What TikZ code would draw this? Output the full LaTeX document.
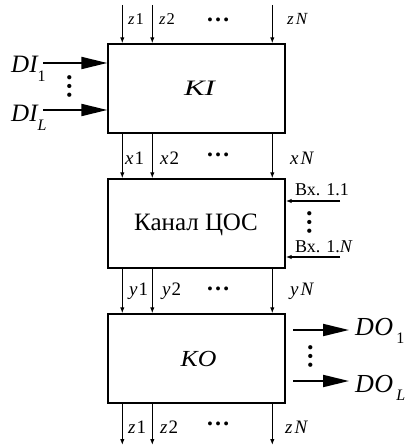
\documentclass[tikz,border=0pt]{standalone}
\usepackage{fontspec}
\setmainfont{Liberation Serif}
\usetikzlibrary{arrows.meta}
\newcommand{\fs}[1]{\fontsize{#1}{#1}\selectfont}
\begin{document}
\begin{tikzpicture}[x=1pt,y=-1pt,
  blk/.style={draw,line width=1.4pt,minimum width=177pt,minimum height=89pt,inner sep=0pt},
  sarr/.style={line width=1.3pt,-{Latex[length=6pt,width=4.5pt]}},
  barr/.style={line width=2pt,-{Triangle[length=26pt,width=12pt]}},
  txt/.style={inner sep=0pt,anchor=base west},
  hdots/.style={font=\fs{24}\bfseries,inner sep=0pt,anchor=base},
  vdots/.style={font=\fs{26}\bfseries,inner sep=0pt,anchor=base,rotate=90}]
\useasboundingbox (0,0) rectangle (409,446);
\node[blk] (ki) at (196.5,88.5) {};
\node[blk] (ch) at (196.5,223.5) {};
\node[blk] (ko) at (196.5,358.5) {};
\node[txt,anchor=base] (kit) at (200,96) {\fs{22}\scalebox{1.4}[1]{\textit{KI}}};
\node[txt,anchor=base] (cht) at (196,230) {\fs{25}Канал ЦОС};
\node[txt,anchor=base] (kot) at (198.5,366) {\fs{23}\scalebox{1.12}[1]{\textit{KO}}};
% vertical connectors
\foreach \dx/\n in {15/a,45/b,165/c}{
  \coordinate (t\n) at ([xshift=\dx pt]ki.north west |- 0,5);
  \draw[sarr] (t\n) -- ([xshift=\dx pt]ki.north west);
  \draw[sarr] ([xshift=\dx pt]ki.south west) -- ([xshift=\dx pt]ch.north west);
  \draw[sarr] ([xshift=\dx pt]ch.south west) -- ([xshift=\dx pt]ko.north west);
  \coordinate (b\n) at ([xshift=\dx pt]ko.south west |- 0,445);
  \draw[sarr] ([xshift=\dx pt]ko.south west) -- (b\n);
}
% labels
\node[txt] (z1t) at (128,25) {\fs{16.5}\textit{z}\kern1pt 1};
\node[txt] (z2t) at (159,25) {\fs{16.5}\textit{z}\kern1pt 2};
\node[hdots] (dt) at (218,22) {…};
\node[txt] (zNt) at (287,25) {\fs{17}\textit{z}\kern2pt\textit{N}};
\node[txt] (x1) at (125,165) {\fs{19}\textit{x}\kern1pt 1};
\node[txt] (x2) at (160,165) {\fs{19}\textit{x}\kern1pt 2};
\node[hdots] (dx) at (218,157) {…};
\node[txt] (xN) at (290,165) {\fs{19}\textit{x}\kern2pt\textit{N}};
\node[txt] (y1) at (129,295) {\fs{19}\textit{y}\kern1pt 1};
\node[txt] (y2) at (162,295) {\fs{19}\textit{y}\kern1pt 2};
\node[hdots] (dy) at (218,290) {…};
\node[txt] (yN) at (290,295) {\fs{19}\textit{y}\kern2pt\textit{N}};
\node[txt] (z1b) at (128,433) {\fs{19}\textit{z}\kern1pt 1};
\node[txt] (z2b) at (160,433) {\fs{19}\textit{z}\kern1pt 2};
\node[hdots] (db) at (218,425) {…};
\node[txt] (zNb) at (285,433) {\fs{19}\textit{z}\kern2pt\textit{N}};
% DI inputs
\node[txt] (di1) at (11,73) {\fs{25}\textit{DI}\kern-1pt\raisebox{-9pt}{\fs{16}1}};
\node[txt] (diL) at (11,122) {\fs{25}\textit{DI}\kern-1pt\raisebox{-9pt}{\fs{16}\textit{L}}};
\coordinate (di1s) at (43,63);
\coordinate (diLs) at (43,110);
\draw[barr] (di1s) -- (di1s -| ki.west);
\draw[barr] (diLs) -- (diLs -| ki.west);
\node[vdots] (dv1) at (71,87) {…};
% channel inputs
\coordinate (v1s) at (340,201);
\coordinate (vNs) at (340,257);
\draw[sarr] (v1s) -- (v1s -| ch.east);
\draw[sarr] (vNs) -- (vNs -| ch.east);
\node[txt] (v1) at (295,196) {\fs{18}Вх. 1.1};
\node[txt] (vN) at (295,252) {\fs{18}Вх. 1.\textit{N}};
\node[vdots] (dv2) at (311,222) {…};
% DO outputs
\coordinate (do1s) at (293,330);
\coordinate (doLs) at (293,381);
\coordinate (do1e) at (349,330);
\coordinate (doLe) at (349,381);
\draw[barr] (do1s) -- (do1e);
\draw[barr] (doLs) -- (doLe);
\node[txt] (do1) at (355,335) {\fs{26}\textit{D}\kern0.5pt\textit{O}\kern3pt\raisebox{-8pt}{\fs{16}1}};
\node[txt] (doL) at (355,392) {\fs{26}\textit{D}\kern0.5pt\textit{O}\kern3pt\raisebox{-8pt}{\fs{16}\textit{L}}};
\node[vdots] (dv3) at (312,356) {…};
\end{tikzpicture}
\end{document}
